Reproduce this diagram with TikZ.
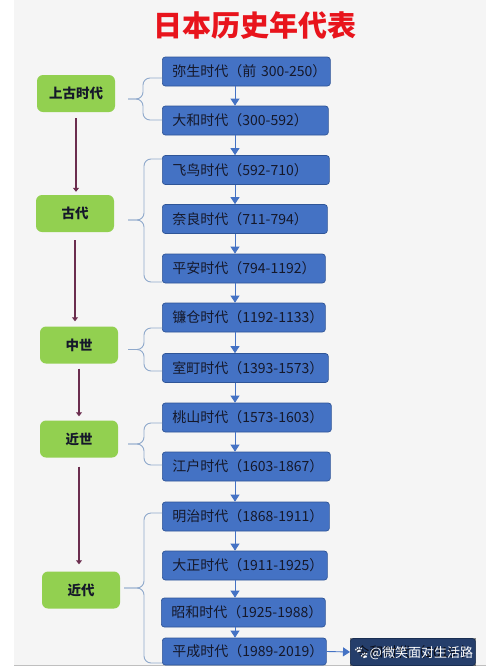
\documentclass[tikz,border=0pt]{standalone}
\usepackage{fontspec}
\setmainfont{Noto Sans CJK SC}
\newfontfamily\emj{Noto Emoji}
\usetikzlibrary{arrows.meta,calc}
\definecolor{bfill}{HTML}{4472C4}
\definecolor{bline}{HTML}{2F5597}
\definecolor{gfill}{HTML}{92D050}
\definecolor{mrn}{HTML}{6B2D4E}
\definecolor{brc}{HTML}{8FA9CC}
\definecolor{ttl}{HTML}{E8141C}
\definecolor{bgc}{HTML}{F5F5F5}
\definecolor{txt}{HTML}{15182A}
\begin{document}
\begin{tikzpicture}[x=1pt,y=-1pt,
  bbox/.style={/utils/exec={\pgfmathsetmacro\tw{#1-20}},draw=bline,line width=0.7pt,fill=bfill,rounded corners=3pt,
    minimum height=29pt,text width=\tw pt,inner xsep=10pt,inner ysep=2pt,align=left,
    font=\fontsize{14}{16}\selectfont,text=txt,anchor=west,
    execute at begin node=\hbox\bgroup, execute at end node=\egroup},
  gbox/.style={fill=gfill,rounded corners=6pt,minimum width=78pt,minimum height=37pt,
    font=\fontsize{13.5}{15}\selectfont\bfseries,text=txt},
  barr/.style={draw=bfill,line width=0.9pt,-{Triangle[width=9pt,length=7pt]}},
  marr/.style={draw=mrn,line width=2.2pt,-{Triangle[width=6pt,length=4pt]}},
  brace/.style={draw=brc,line width=0.9pt,rounded corners=7pt}]
\useasboundingbox (0,0) rectangle (500,667);
\fill[white] (0,0) rectangle (500,667);
\fill[bgc] (14,0) rectangle (486,665);
\draw[black!25,line width=0.8pt] (14,665.5) -- (486,665.5);

\node[font=\fontsize{29}{31}\selectfont\bfseries,text=ttl] (title) at (255,25) {日本历史年代表};

% blue period boxes
\node[bbox=168] (b1) at (162,71.5) {弥生时代（前 300-250）};
\node[bbox=166] (b2) at (162,120.5) {大和时代（300-592）};
\node[bbox=167] (b3) at (162,170) {飞鸟时代（592-710）};
\node[bbox=165] (b4) at (162,219) {奈良时代（711-794）};
\node[bbox=163] (b5) at (162,268.5) {平安时代（794-1192）};
\node[bbox=163] (b6) at (162,317.5) {镰仓时代（1192-1133）};
\node[bbox=166] (b7) at (162,368) {室町时代（1393-1573）};
\node[bbox=169] (b8) at (162,417.5) {桃山时代（1573-1603）};
\node[bbox=168] (b9) at (162,466.5) {江户时代（1603-1867）};
\node[bbox=167] (b10) at (162,516.5) {明治时代（1868-1911）};
\node[bbox=165] (b11) at (162,565.5) {大正时代（1911-1925）};
\node[bbox=164] (b12) at (161,612.5) {昭和时代（1925-1988）};
\node[bbox=164,minimum height=27pt] (b13) at (162,651.5) {平成时代（1989-2019）};
\node[bbox=135,minimum height=27pt,inner xsep=5pt] (b14) at (350,652) {令和时代（2019-）};

% green era boxes
\node[gbox] (g1) at (76,93.5) {上古时代};
\node[gbox] (g2) at (75,213.5) {古代};
\node[gbox] (g3) at (79,345) {中世};
\node[gbox] (g4) at (79,439) {近世};
\node[gbox] (g5) at (81,590) {近代};

% blue arrows
\coordinate (ax) at (235,0);
\foreach \a/\b in {b1/b2,b2/b3,b3/b4,b4/b5,b5/b6,b6/b7,b7/b8,b8/b9,b9/b10,b10/b11,b11/b12,b12/b13}
  \draw[barr] (\a.south -| ax) -- (\b.north -| ax);
\draw[barr] (b13.east) -- (b14.west);

% maroon arrows
\draw[marr,shorten <=6pt,shorten >=3pt] (g1.south) -- (g1.south |- g2.north);
\draw[marr,shorten <=8pt,shorten >=5pt] (g2.south) -- (g2.south |- g3.north);
\draw[marr,shorten <=5pt,shorten >=4pt] (g3.south) -- (g3.south |- g4.north);
\draw[marr,shorten <=9pt,shorten >=7pt] (g4.south) -- (g4.south |- g5.north);

% braces
\coordinate (t1) at (128,99);
\coordinate (t2) at (128,220);
\coordinate (t3) at (128,349.5);
\coordinate (t4) at (128,444);
\coordinate (t5) at (124,588);
\draw[brace] (t1) -- ++(15,0) |- ($(b1.west)+(0,6.5)$);
\draw[brace] (t1) -- ++(15,0) |- ($(b2.west)+(0,-0.5)$);
\draw[brace] (t2) -- ++(16,0) |- ($(b3.west)+(0,-11)$);
\draw[brace] (t2) -- ++(16,0) |- ($(b5.west)+(0,13.5)$);
\draw[brace] (t3) -- ++(16,0) |- ($(b6.west)+(0,10.5)$);
\draw[brace] (t3) -- ++(16,0) |- ($(b7.west)+(0,3)$);
\draw[brace] (t4) -- ++(16,0) |- ($(b8.west)+(0,5.5)$);
\draw[brace] (t4) -- ++(16,0) |- ($(b9.west)+(0,-1.5)$);
\draw[brace] (t5) -- ++(20,0) |- ($(b10.west)+(0,-3.5)$);
\draw[brace] (t5) -- ++(20,0) |- ($(b13.west)+(0,11.5)$);

% watermark
\fill[black,opacity=0.45] (b14.north west) rectangle (b14.south east);
\node[text=white,font=\fontsize{13}{15}\selectfont,anchor=west,inner sep=0pt] (wm) at (353,653) {{\emj 🐾}@微笑面对生活路};
\end{tikzpicture}
\end{document}
